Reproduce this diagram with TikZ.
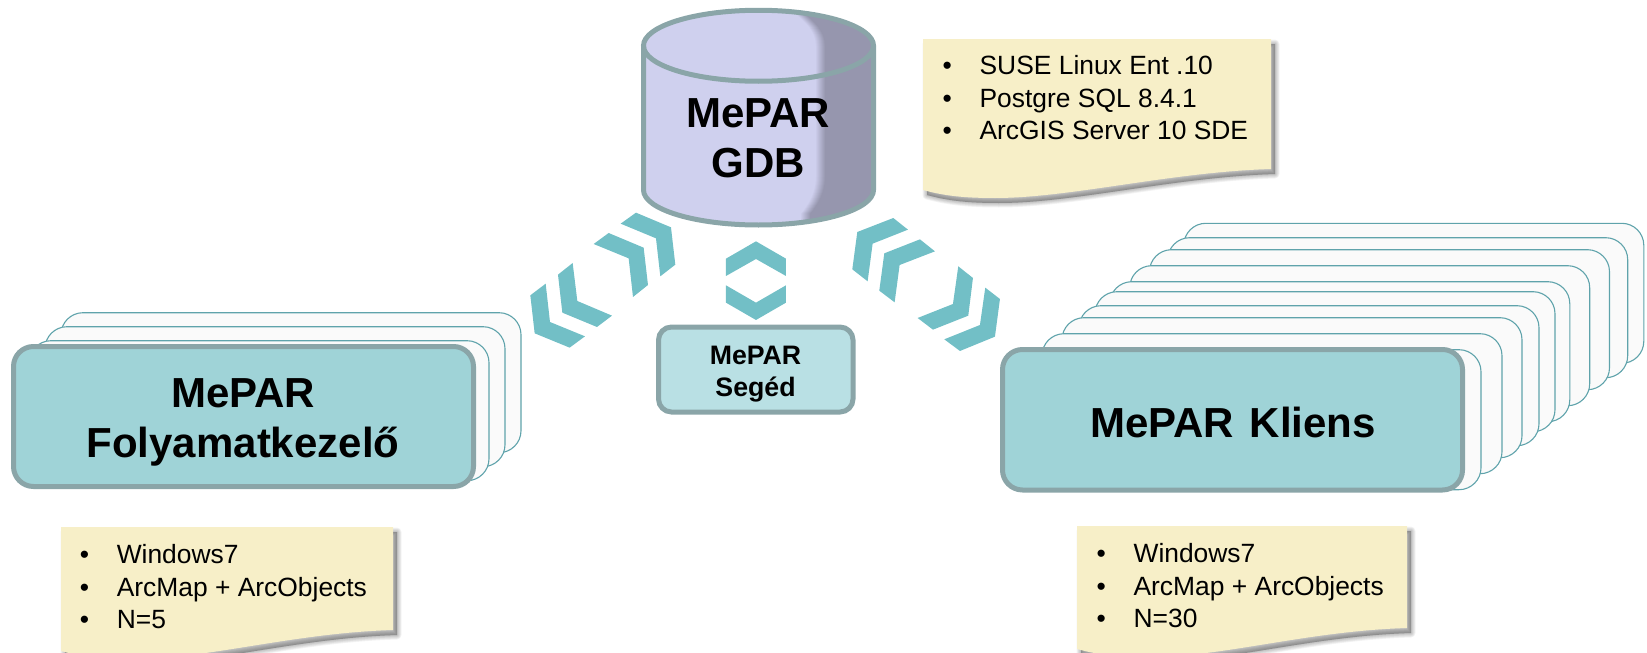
\documentclass[tikz,border=0pt]{standalone}
\usepackage{fontspec}
\setmainfont{Liberation Sans}
\definecolor{boxline}{HTML}{8AA5A8}
\definecolor{boxfill}{HTML}{9FD3D7}
\definecolor{smallfill}{HTML}{B9E0E4}
\definecolor{backline}{HTML}{5FA3AB}
\definecolor{backfill}{HTML}{FAFAFA}
\definecolor{chev}{HTML}{72BFC6}
\definecolor{cyllight}{HTML}{CFD0EE}
\definecolor{cyldark}{HTML}{9696AE}
\definecolor{notefill}{HTML}{F7EFC8}
\newcommand\firstline[1]{\rule{0pt}{#1pt}}
\newcommand\bul{\makebox[37pt][l]{•}}
\newcommand\notepath[4]{(#1,#3) -- (#2,#3) -- (#2,#4)
  .. controls ({#2-100},{#4+3}) and ({#1+147},{#4+29}) .. ({#1+72},{#4+29})
  .. controls ({#1+42},{#4+29}) and ({#1+22},{#4+27}) .. (#1,{#4+21}) -- cycle}
\newcommand\notebox[4]{%
  \foreach \w in {9,7.5,6,4.5,3,1.5,0.2}{\fill[black,opacity=.045,draw=black,line width=\w pt,line join=round,shift={(4,5)}] \notepath{#1}{#2}{#3}{#4};}
  \fill[notefill] \notepath{#1}{#2}{#3}{#4};}
\tikzset{
  backbox/.style={draw=backline,fill=backfill,line width=1.1pt,rounded corners=22pt},
  frontbox/.style={draw=boxline,fill=boxfill,line width=5pt,rounded corners=20pt},
  smallbox/.style={draw=boxline,fill=smallfill,line width=5pt,rounded corners=13pt},
  chevron/.style={fill=chev},
  bigtext/.style={inner sep=0pt,anchor=north,align=center,font=\bfseries\fontsize{42}{50.5}\selectfont},
  smalltext/.style={inner sep=0pt,anchor=north,align=center,font=\bfseries\fontsize{26.7}{32.5}\selectfont},
  notetext/.style={inner sep=0pt,anchor=north west,align=left,font=\fontsize{26.4}{32.5}\selectfont},
}
\begin{document}
\begin{tikzpicture}[x=1pt,y=-1pt]
\useasboundingbox (0,0) rectangle (1647,653);
% left stack
\foreach \r/\t in {521/312.7,505/326.7,489/340.7}{
  \draw[backbox] ({\r-460},\t) rectangle (\r,{\t+140});}
\draw[frontbox] (13.5,346.5) rectangle (473.5,486.5);
% right stack
\foreach \r/\t in {1643.8/223.3,1627.7/237.7,1609.5/249.7,1589.7/265.7,1569.8/281.7,1555/291.7,1539/305.7,1522/317.7,1502/333.7,1481/349.7}{
  \draw[backbox] ({\r-460},\t) rectangle (\r,{\t+140});}
\draw[frontbox] (1002.5,349.5) rectangle (1462.5,490);
% small box
\draw[smallbox] (658.5,327) rectangle (853,412);
% cylinder
\begin{scope}
\clip (643.5,45.75) -- (643.5,190) .. controls (643.5,209.3) and (695,225) .. (758.5,225)
  .. controls (822,225) and (873.5,209.3) .. (873.5,190) -- (873.5,45.75)
  .. controls (873.5,26.2) and (822,10.25) .. (758.5,10.25)
  .. controls (695,10.25) and (643.5,26.2) .. (643.5,45.75) -- cycle;
\fill[cyllight] (630,0) rectangle (890,240);
\foreach \i in {0,...,10}{
  \pgfmathsetmacro\mix{\i*10}
  \fill[cyldark!\mix!cyllight,shift={({\i*1.0-5},0)}] (800,0) -- (800,14) .. controls (810,22) and (820,32) .. (820,46)
    -- (820,177) .. controls (820,190) and (815,202) .. (805,214) -- (805,240) -- (900,240) -- (900,0) -- cycle;}
\end{scope}
\draw[boxline,line width=5pt,line join=round] (643.5,45.75) -- (643.5,190) .. controls (643.5,209.3) and (695,225) .. (758.5,225)
  .. controls (822,225) and (873.5,209.3) .. (873.5,190) -- (873.5,45.75);
\draw[boxline,line width=5pt] (758.5,45.75) ellipse [x radius=115, y radius=35.5];
% chevrons
\begin{scope}[shift={(500,200)},x=0.3333pt,y=-0.3333pt]
\fill[chevron] (408,38)--(513,82)--(526,194)--(481,229)--(468,115)--(362,71)--cycle;
\fill[chevron] (326,99)--(431,143)--(444,255)--(399,291)--(386,175)--(281,132)--cycle;
\fill[chevron] (218,189)--(232,303)--(336,347)--(291,381)--(187,338)--(174,224)--cycle;
\fill[chevron] (137,251)--(150,366)--(255,409)--(209,443)--(104,400)--(91,286)--cycle;
\fill[chevron] (768,124)--(858,176)--(858,228)--(768,177)--(678,228)--(678,176)--cycle;
\fill[chevron] (678,256)--(768,308)--(858,256)--(858,308)--(768,360)--(678,308)--cycle;
\fill[chevron] (1180,54)--(1224,89)--(1118,131)--(1103,244)--(1057,208)--(1072,96)--cycle;
\fill[chevron] (1260,118)--(1305,154)--(1199,195)--(1184,307)--(1138,272)--(1153,160)--cycle;
\fill[chevron] (1375,199)--(1419,234)--(1405,347)--(1299,389)--(1253,354)--(1359,312)--cycle;
\fill[chevron] (1456,263)--(1500,297)--(1485,410)--(1380,453)--(1333,418)--(1440,375)--cycle;
\end{scope}
% notes
\notebox{923}{1271}{39}{169}
\notebox{61}{393}{527}{630}
\notebox{1077}{1407}{526}{628}
% labels
\node[bigtext] (gdb) at (758,97) {\firstline{30}MePAR\\GDB};
\node[bigtext] (folyamat) at (243,377) {\firstline{30}MePAR\\Folyamatkezelő};
\node[bigtext] (kliens) at (1233,406.5) {\firstline{30}MePAR\hspace{4pt} Kliens};
\node[smalltext] (seged) at (755.5,344) {\firstline{20}MePAR\\Segéd};
\node[notetext] (n1) at (942.4,54.3) {\firstline{20}\bul SUSE Linux Ent .10\\\bul Postgre SQL 8.4.1\\\bul ArcGIS Server 10 SDE};
\node[notetext] (n2) at (79.6,543.7) {\firstline{20}\bul Windows7\\\bul ArcMap + ArcObjects\\\bul N=5};
\node[notetext] (n3) at (1096.4,542.5) {\firstline{20}\bul Windows7\\\bul ArcMap + ArcObjects\\\bul N=30};
\end{tikzpicture}
\end{document}
